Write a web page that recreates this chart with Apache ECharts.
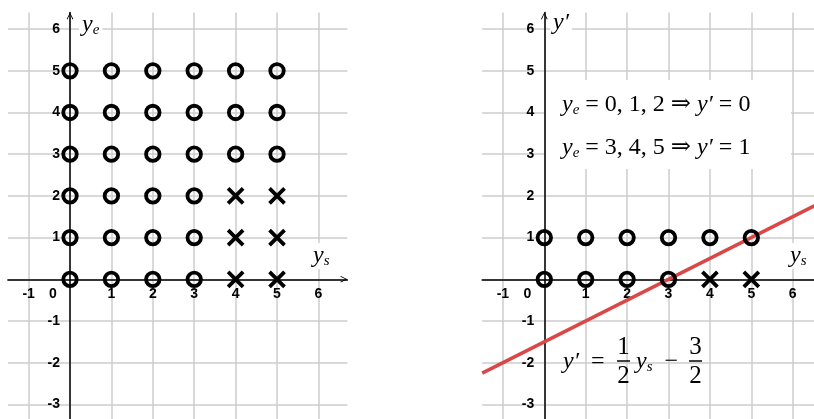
<!DOCTYPE html>
<html>
<head>
<meta charset="utf-8">
<script src="https://cdn.jsdelivr.net/npm/echarts@6/dist/echarts.min.js"></script>
<style>
  html, body { margin: 0; padding: 0; background: #fff; }
  #chart { width: 814px; height: 419px; }
</style>
</head>
<body>
<div id="chart"></div>
<script>
// left panel: (y_s, y_e) pairs
const leftCircles = [
  [0,0],[1,0],[2,0],[3,0],
  [0,1],[1,1],[2,1],[3,1],
  [0,2],[1,2],[2,2],[3,2],
  [0,3],[1,3],[2,3],[3,3],[4,3],[5,3],
  [0,4],[1,4],[2,4],[3,4],[4,4],[5,4],
  [0,5],[1,5],[2,5],[3,5],[4,5],[5,5]
];
const leftCrosses = [[4,0],[5,0],[4,1],[5,1],[4,2],[5,2]];

// right panel: (y_s, y')
const rightCircles = [
  [0,0],[1,0],[2,0],[3,0],
  [0,1],[1,1],[2,1],[3,1],[4,1],[5,1]
];
const rightCrosses = [[4,0],[5,0]];
const redLine = [[-1.5,-2.25],[6.7,1.85]];

const xRange = [-1.5, 6.7];
const yRange = [-3.4, 6.4];
const gridW = 339.5, gridH = 408.7;

const labelFont = '"Liberation Sans", Arial, sans-serif';
const mathFont = '"Liberation Serif", "DejaVu Serif", serif';
const arrowPath = 'path://M0,10 L5,0 L10,10 L8.8,10.6 L5,2.6 L1.2,10.6 Z';
const crossPath = 'path://M0,0L10,10M10,0L0,10';

// axes sit at the origin, not at the grid edge
const yAxisShift = -(0 - xRange[0]) / (xRange[1] - xRange[0]) * gridW;
const xAxisShift = -(0 - yRange[0]) / (yRange[1] - yRange[0]) * gridH;

function tickFormatter(isX) {
  return function (v) {
    if (Math.abs(v - Math.round(v)) > 1e-6) return '';
    if (v === 0) return isX ? '{o|0}' : '';
    return String(v);
  };
}

function xAxisFor(gi) {
  return {
    gridIndex: gi, type: 'value', min: xRange[0], max: xRange[1],
    splitNumber: 8, minInterval: 1, maxInterval: 1,
    position: 'bottom', offset: xAxisShift,
    axisLine: {
      onZero: false,
      lineStyle: { color: '#000', width: 1.5 },
      symbol: ['none', arrowPath], symbolSize: [10, 7], symbolOffset: [0, -3.5]
    },
    axisTick: { show: false },
    axisLabel: {
      formatter: tickFormatter(true), showMinLabel: false, showMaxLabel: false,
      fontFamily: labelFont, fontWeight: 'bold', fontSize: 14, color: '#000', margin: 8,
      rich: { o: { fontFamily: labelFont, fontWeight: 'bold', fontSize: 14, color: '#000', padding: [0, 34, 0, 0] } }
    },
    splitLine: { show: true, showMinLine: false, showMaxLine: false, lineStyle: { color: '#cccccc', width: 1.5 } }
  };
}

function yAxisFor(gi) {
  return {
    gridIndex: gi, type: 'value', min: yRange[0], max: yRange[1],
    splitNumber: 10, minInterval: 1, maxInterval: 1,
    position: 'left', offset: yAxisShift,
    axisLine: {
      onZero: false,
      lineStyle: { color: '#000', width: 1.5 },
      symbol: ['none', arrowPath], symbolSize: [10, 7], symbolOffset: [0, -3.5]
    },
    axisTick: { show: false },
    axisLabel: {
      formatter: tickFormatter(false), showMinLabel: false, showMaxLabel: false,
      fontFamily: labelFont, fontWeight: 'bold', fontSize: 14, color: '#000', margin: 10
    },
    splitLine: { show: true, showMinLine: false, showMaxLine: false, lineStyle: { color: '#cccccc', width: 1.5 } }
  };
}

function circles(data, idx) {
  return {
    type: 'scatter', xAxisIndex: idx, yAxisIndex: idx, data: data,
    symbol: 'circle', symbolSize: 13.5, z: 5,
    itemStyle: { color: 'rgba(0,0,0,0)', borderColor: '#000', borderWidth: 3.8, opacity: 1 }
  };
}
function crosses(data, idx) {
  return {
    type: 'scatter', xAxisIndex: idx, yAxisIndex: idx, data: data,
    symbol: crossPath, symbolSize: 15, z: 5,
    itemStyle: { color: 'rgba(0,0,0,0)', borderColor: '#000', borderWidth: 3.8, opacity: 1 }
  };
}

const rich = {
  v: { fontFamily: mathFont, fontStyle: 'italic', fontSize: 24, lineHeight: 26, fill: '#000' },
  n: { fontFamily: mathFont, fontSize: 24, lineHeight: 26, fill: '#000' },
  s: { fontFamily: mathFont, fontStyle: 'italic', fontSize: 15, lineHeight: 14, padding: [10, 0, 0, 0], fill: '#000' }
};

function mathText(x, y, text, bg) {
  const st = { text: text, rich: rich, verticalAlign: 'top', align: 'left' };
  if (bg) { st.backgroundColor = '#fff'; st.padding = [0, 3, 0, 3]; }
  return { type: 'text', x: x, y: y, z: 100, style: st };
}
function plain(x, y, text, size) {
  return { type: 'text', x: x, y: y, z: 100,
    style: { text: text, fontFamily: mathFont, fontSize: size, align: 'center', verticalAlign: 'top', fill: '#000' } };
}
function bar(x1, x2, y) {
  return { type: 'line', z: 100, shape: { x1: x1, y1: y, x2: x2, y2: y }, style: { stroke: '#000', lineWidth: 1.5 } };
}

const chart = echarts.init(document.getElementById('chart'));
chart.setOption({
  animation: false,
  grid: [
    { left: 7.9, top: 12.4, width: gridW, height: gridH, outerBoundsMode: 'none', containLabel: false },
    { left: 482.2, top: 12.4, width: gridW, height: gridH, outerBoundsMode: 'none', containLabel: false }
  ],
  xAxis: [xAxisFor(0), xAxisFor(1)],
  yAxis: [yAxisFor(0), yAxisFor(1)],
  series: [
    {
      type: 'line', xAxisIndex: 1, yAxisIndex: 1, data: redLine, showSymbol: false, z: 3,
      lineStyle: { color: '#d94848', width: 3.5 }
    },
    circles(leftCircles, 0),
    crosses(leftCrosses, 0),
    circles(rightCircles, 1),
    crosses(rightCrosses, 1)
  ],
  graphic: [
    mathText(79, 12, '{v|y}{s|e}', true),
    mathText(310, 243, '{v|y}{s|s}', true),
    mathText(550, 10, '{v|y′}', true),
    mathText(787, 243, '{v|y}{s|s}', true),
    { type: 'rect', z: 99, shape: { x: 546, y: 80, width: 245, height: 89 }, style: { fill: '#fff' } },
    mathText(562, 92, '{v|y}{s|e}{n| = 0, 1, 2 ⇒ }{v|y′}{n| = 0}', false),
    mathText(562, 135, '{v|y}{s|e}{n| = 3, 4, 5 ⇒ }{v|y′}{n| = 1}', false),
    mathText(563, 349, '{v|y′}{n|  =}', false),
    plain(623.5, 335, '1', 25),
    bar(617, 630, 361),
    plain(623.5, 364, '2', 25),
    mathText(636, 349, '{v|y}{s|s}{n|  −}', false),
    plain(695.5, 335, '3', 25),
    bar(689, 702, 361),
    plain(695.5, 364, '2', 25)
  ]
});
</script>
</body>
</html>
